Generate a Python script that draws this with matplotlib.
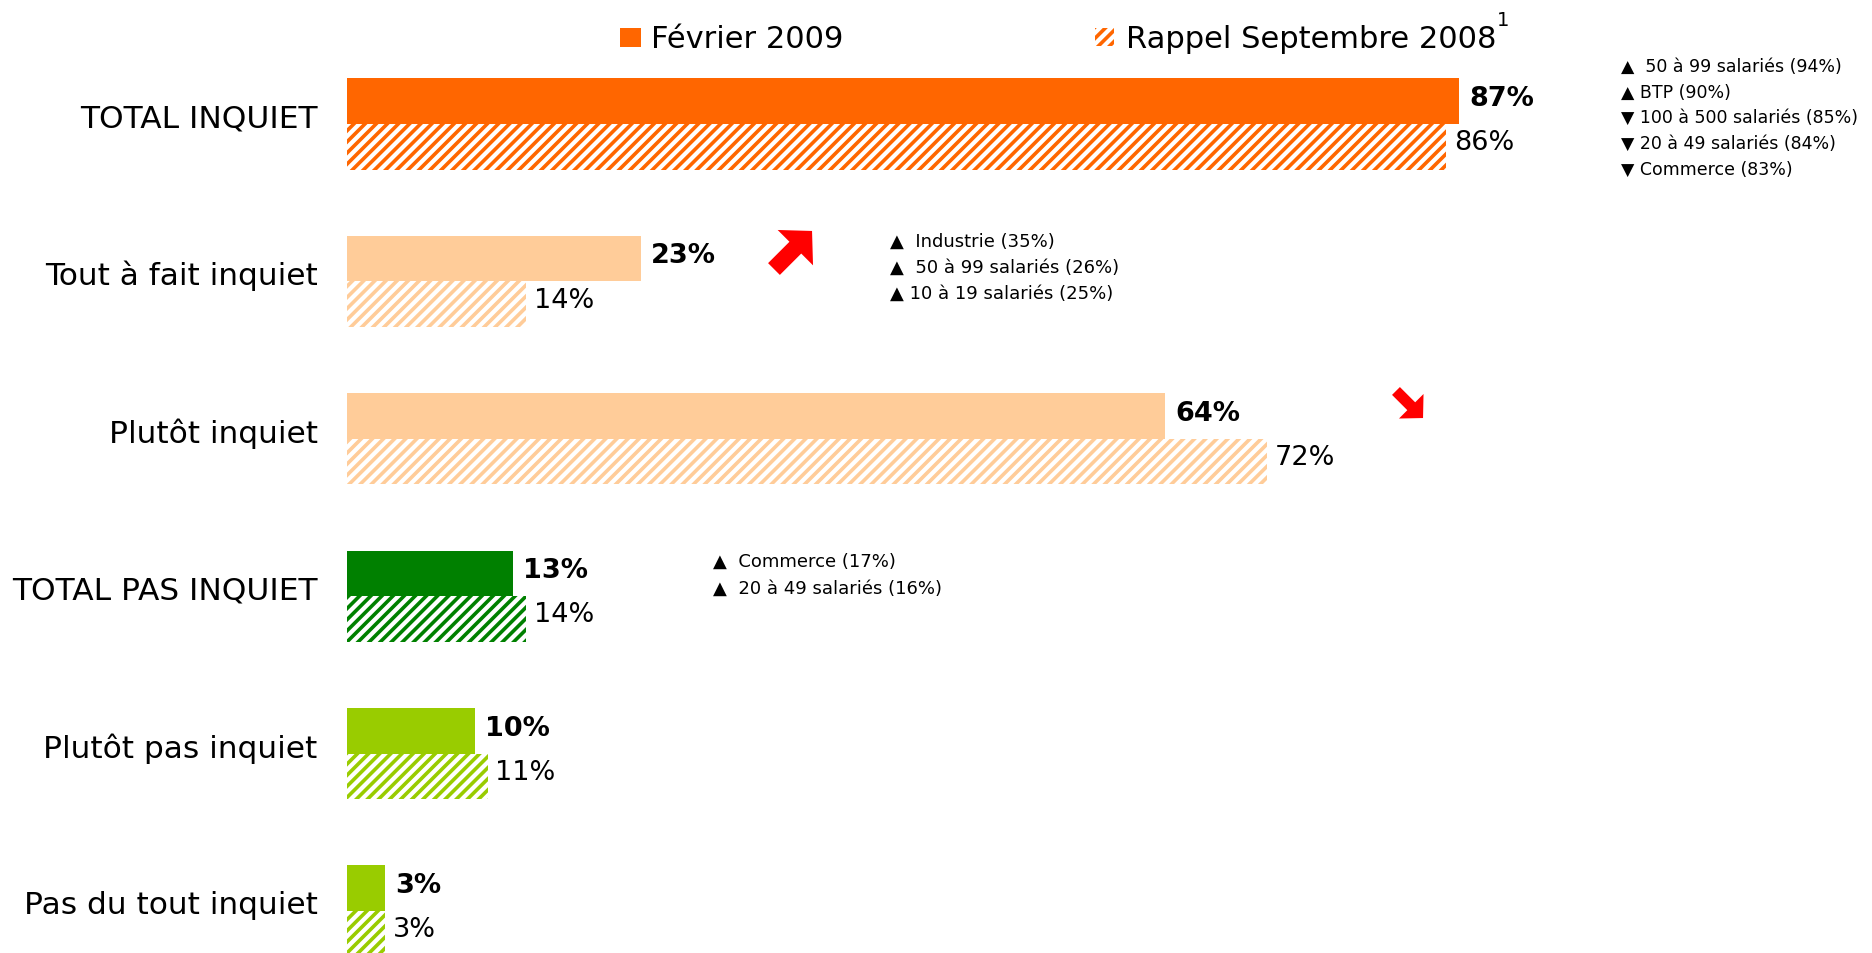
import matplotlib.pyplot as plt
from matplotlib.patches import Rectangle, FancyArrowPatch

# donnees
categories = ["TOTAL INQUIET", "Tout à fait inquiet", "Plutôt inquiet",
              "TOTAL PAS INQUIET", "Plutôt pas inquiet", "Pas du tout inquiet"]
fevrier_2009 = [87, 23, 64, 13, 10, 3]
septembre_2008 = [86, 14, 72, 14, 11, 3]
colors = ["#FF6600", "#FFCC99", "#FFCC99", "#008000", "#99CC00", "#99CC00"]

notes_total = ["▲  50 à 99 salariés (94%)", "▲ BTP (90%)", "▼ 100 à 500 salariés (85%)",
               "▼ 20 à 49 salariés (84%)", "▼ Commerce (83%)"]
notes_tout = ["▲  Industrie (35%)", "▲  50 à 99 salariés (26%)", "▲ 10 à 19 salariés (25%)"]
notes_pas = ["▲  Commerce (17%)", "▲  20 à 49 salariés (16%)"]

plt.rcParams['font.family'] = ["DejaVu Sans"]
plt.rcParams['hatch.linewidth'] = 2.6

W, H = 1872, 954
fig = plt.figure(figsize=(W / 100, H / 100), dpi=100)
ax = fig.add_axes([347 / W, 0, 1278 / W, 1])
ax.set_xlim(0, 100)
ax.set_ylim(5 + 42 / 157.4, -125 / 157.4)
ax.axis("off")

h = 0.29
for i, cat in enumerate(categories):
    c = colors[i]
    ax.barh(i - h / 2, fevrier_2009[i], height=h, color=c, linewidth=0)
    ax.barh(i + h / 2, septembre_2008[i], height=h, facecolor="white",
            edgecolor=c, hatch="///", linewidth=0)
    ax.text(-2.3, i - 0.04, cat, ha="right", va="center", fontsize=22.5, clip_on=False)
    ax.text(fevrier_2009[i] + 0.8, i - h / 2 - 0.02, f"{fevrier_2009[i]}%",
            ha="left", va="center", fontsize=19.5, fontweight="bold")
    ax.text(septembre_2008[i] + 0.6, i + h / 2 - 0.03, f"{septembre_2008[i]}%",
            ha="left", va="center", fontsize=19.5)


def fx(px):
    return px / W


def fy(py):
    return 1 - py / H


# legende
fig.add_artist(Rectangle((fx(620), fy(48)), 21 / W, 19 / H, transform=fig.transFigure,
                         color="#FF6600", linewidth=0))
fig.text(fx(651), fy(39), "Février 2009", fontsize=22, va="center")
fig.add_artist(Rectangle((fx(1095), fy(47)), 19 / W, 18 / H, transform=fig.transFigure,
                         facecolor="white", edgecolor="#FF6600", hatch="///", linewidth=0))
fig.text(fx(1126), fy(39), "Rappel Septembre 2008", fontsize=22, va="center")
fig.text(fx(1497), fy(21), "1", fontsize=14, va="center")

# annotations
for k, t in enumerate(notes_total):
    fig.text(fx(1621), fy(67 + k * 25.7), t, fontsize=12.5, va="center")
for k, t in enumerate(notes_tout):
    fig.text(fx(890), fy(242 + k * 26), t, fontsize=13, va="center")
for k, t in enumerate(notes_pas):
    fig.text(fx(713), fy(562 + k * 26.5), t, fontsize=13, va="center")

# fleches rouges
fig.add_artist(FancyArrowPatch((fx(772), fy(272)), (fx(814), fy(230)),
                               transform=fig.transFigure, mutation_scale=1,
                               arrowstyle="simple,head_length=17,head_width=36,tail_width=12",
                               color="red", linewidth=0))
fig.add_artist(FancyArrowPatch((fx(1394), fy(390)), (fx(1425), fy(421)),
                               transform=fig.transFigure, mutation_scale=1,
                               arrowstyle="simple,head_length=12,head_width=25,tail_width=8",
                               color="red", linewidth=0))

fig.savefig("out.png", dpi=100)
